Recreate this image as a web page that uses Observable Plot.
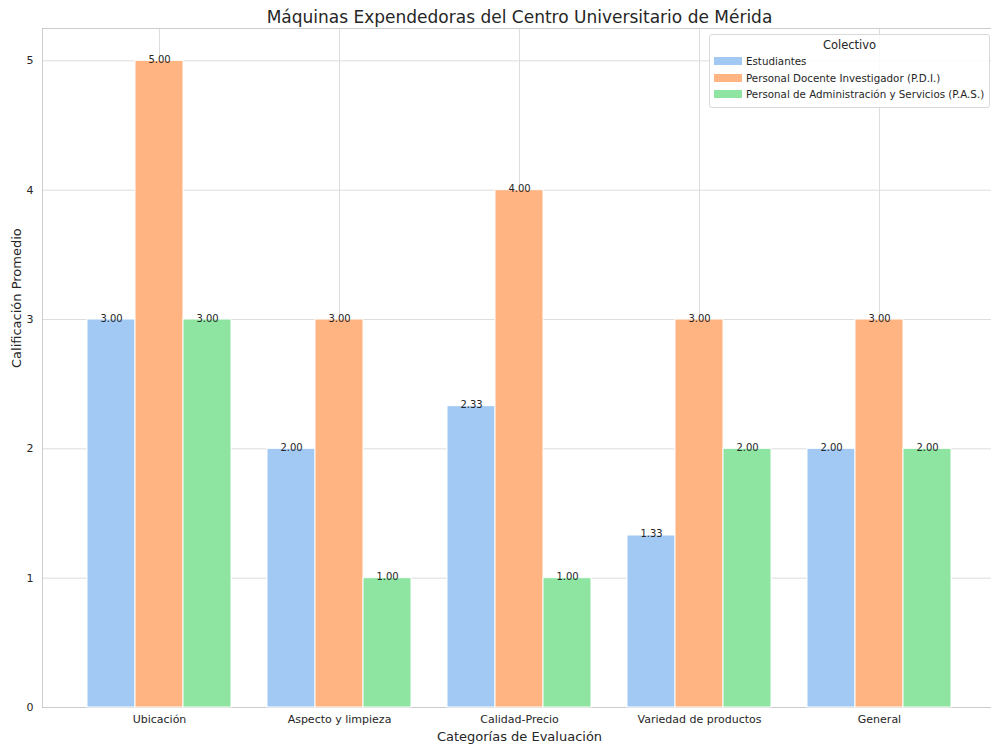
<!DOCTYPE html>
<html>
<head>
<meta charset="utf-8">
<script src="https://cdn.jsdelivr.net/npm/d3@7"></script>
<script src="https://cdn.jsdelivr.net/npm/@observablehq/plot@0.6"></script>
<style>
  body { margin: 0; background: #fff; font-family: "DejaVu Sans", sans-serif; }
  #wrap { position: relative; width: 991px; height: 745px; overflow: hidden; }
  #legend { position: absolute; left: 709px; top: 34px; width: 281px; padding: 3px 0 4px 0;
    border: 1px solid #d9d9d9; border-radius: 3px; background: rgba(255,255,255,0.85);
    font-size: 10.3px; color: #262626; box-sizing: border-box; white-space: nowrap; }
  #legend .title { text-align: center; font-size: 11.5px; margin-bottom: 1px; }
  #legend .item { display: flex; align-items: center; height: 16.5px; padding-left: 4px; }
  #legend .sw { width: 28px; height: 8px; margin-right: 4px; flex: none; }
</style>
</head>
<body>
<div id="wrap"></div>
<script>
const title = "Máquinas Expendedoras del Centro Universitario de Mérida";
const xLabel = "Categorías de Evaluación";
const yLabel = "Calificación Promedio";
const legendTitle = "Colectivo";
const categories = ["Ubicación", "Aspecto y limpieza", "Calidad-Precio", "Variedad de productos", "General"];
const seriesNames = ["Estudiantes", "Personal Docente Investigador (P.D.I.)", "Personal de Administración y Servicios (P.A.S.)"];
const estudiantes = [3.00, 2.00, 2.33, 1.33, 2.00];
const pdi = [5.00, 3.00, 4.00, 3.00, 3.00];
const pas = [3.00, 1.00, 1.00, 2.00, 2.00];
const colors = ["#a1c9f4", "#ffb482", "#8de5a1"];
const yTicks = [0, 1, 2, 3, 4, 5];

const seriesValues = [estudiantes, pdi, pas];
const rows = seriesValues.map((vals, s) => categories.map((c, i) => ({cat: c, value: vals[i], series: seriesNames[s]})));

// each category band is 144px wide; three bars of 48px side by side
const barW = 48;
const insets = [[0, 2 * barW], [barW, barW], [2 * barW, 0]];
const offsets = [-barW, 0, barW];

const marks = [Plot.frame({stroke: "#cccccc"})];
rows.forEach((data, s) => {
  marks.push(Plot.barY(data, {
    x: "cat", y: "value", fill: colors[s], stroke: "white", strokeWidth: 1,
    insetLeft: insets[s][0], insetRight: insets[s][1]
  }));
});
rows.forEach((data, s) => {
  marks.push(Plot.text(data, {
    x: "cat", y: "value", dx: offsets[s], dy: 2, text: d => d.value.toFixed(2),
    lineAnchor: "bottom", fontSize: 10, fill: "#262626"
  }));
});
marks.push(Plot.text([title], {frameAnchor: "top", dy: -11, fontSize: 17, fill: "#262626", lineAnchor: "middle"}));
marks.push(Plot.text([xLabel], {frameAnchor: "bottom", dy: 29, fontSize: 13, fill: "#262626", lineAnchor: "middle"}));
marks.push(Plot.text([yLabel], {frameAnchor: "left", dx: -26, rotate: -90, fontSize: 13, fill: "#262626", lineAnchor: "middle"}));

const chart = Plot.plot({
  width: 991,
  height: 745,
  marginLeft: 42,
  marginRight: -5,
  marginTop: 28,
  marginBottom: 38,
  style: {fontFamily: "DejaVu Sans, sans-serif", fontSize: "11px", color: "#262626", background: "white", overflow: "hidden"},
  x: {domain: categories, paddingInner: 0.2, paddingOuter: 0.25, label: null, tickSize: 0, tickPadding: 8, grid: true},
  y: {domain: [0, 5.25], ticks: yTicks, label: null, tickSize: 0, tickPadding: 9, grid: true, tickFormat: d3.format("d")},
  marks
});
document.getElementById("wrap").appendChild(chart);

// style grid lines like seaborn whitegrid
chart.querySelectorAll("[aria-label='x-grid'] line, [aria-label='y-grid'] line, [aria-label='x-axis'] line, [aria-label='y-axis'] line").forEach(l => {
  l.setAttribute("stroke", "#dddddd");
  l.setAttribute("stroke-opacity", "1");
});

const legend = document.createElement("div");
legend.id = "legend";
legend.innerHTML = `<div class="title">${legendTitle}</div>` +
  seriesNames.map((n, i) => `<div class="item"><span class="sw" style="background:${colors[i]}"></span>${n}</div>`).join("");
document.getElementById("wrap").appendChild(legend);
</script>
</body>
</html>
